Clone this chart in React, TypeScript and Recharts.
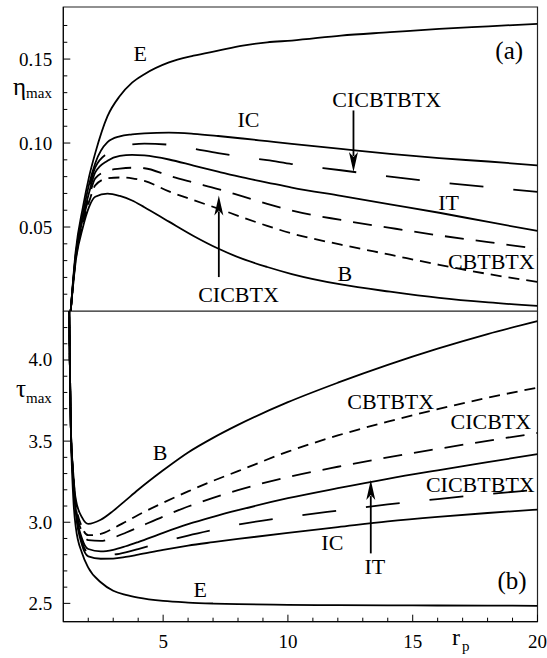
import React from "react";
import {
  LineChart,
  Line,
  XAxis,
  YAxis,
  ReferenceArea,
  ReferenceDot,
  ReferenceLine,
} from "recharts";

const FONT = "'Liberation Serif', 'Times New Roman', serif";

// (a) efficiency vs pressure ratio
const rpTop = [1, 1.2, 1.5, 1.75, 2, 2.5, 3, 3.5, 4, 5, 6, 7, 8, 9, 10, 12, 14, 16, 18, 20];
const etaE = [0, 0.035, 0.062, 0.08, 0.094, 0.116, 0.128, 0.136, 0.141, 0.148, 0.152, 0.155, 0.158, 0.16, 0.161, 0.164, 0.166, 0.168, 0.1695, 0.171];
const etaIC = [0, 0.033, 0.058, 0.0755, 0.088, 0.1005, 0.104, 0.1052, 0.1058, 0.1062, 0.1055, 0.1042, 0.1027, 0.1011, 0.0995, 0.0965, 0.0935, 0.091, 0.089, 0.0867];
const etaCICBTBTX = [0, 0.032, 0.0565, 0.073, 0.0855, 0.094, 0.098, 0.0992, 0.0997, 0.099, 0.0966, 0.094, 0.0918, 0.0898, 0.0875, 0.0838, 0.08, 0.0767, 0.0737, 0.0709];
const etaIT = [0, 0.032, 0.0555, 0.0705, 0.0825, 0.0895, 0.0924, 0.093, 0.0926, 0.0902, 0.0866, 0.083, 0.0795, 0.0765, 0.0735, 0.0685, 0.0635, 0.0585, 0.053, 0.0477];
const etaCICBTX = [0, 0.031, 0.054, 0.068, 0.079, 0.0835, 0.0848, 0.0853, 0.085, 0.0805, 0.0765, 0.0726, 0.0682, 0.0638, 0.0598, 0.0542, 0.0495, 0.045, 0.041, 0.037];
const etaCBTBTX = [0, 0.03, 0.052, 0.065, 0.0748, 0.079, 0.0795, 0.079, 0.0775, 0.0712, 0.066, 0.061, 0.0557, 0.0507, 0.0462, 0.0395, 0.0335, 0.0275, 0.022, 0.0173];
const etaB = [0, 0.029, 0.05, 0.062, 0.068, 0.0699, 0.0685, 0.0658, 0.0618, 0.0532, 0.0447, 0.0372, 0.031, 0.0262, 0.022, 0.0158, 0.0115, 0.0078, 0.0051, 0.003];

// (b) temperature ratio vs pressure ratio
const rpBottom = [1.22, 1.26, 1.3, 1.4, 1.5, 1.75, 2, 2.5, 3, 3.5, 4, 5, 6, 7, 8, 10, 12, 14, 16, 18, 20];
const tauE = [4.6, 4.0, 3.6, 3.15, 2.97, 2.81, 2.72, 2.63, 2.578, 2.552, 2.535, 2.515, 2.505, 2.499, 2.495, 2.491, 2.489, 2.488, 2.487, 2.486, 2.485];
const tauIC = [4.6, 4.0, 3.6, 3.25, 3.06, 2.86, 2.79, 2.775, 2.776, 2.786, 2.8, 2.83, 2.856, 2.877, 2.897, 2.935, 2.97, 3.005, 3.033, 3.057, 3.078];
const tauCICBTBTX = [4.6, 4.0, 3.6, 3.26, 3.07, 2.88, 2.81, 2.795, 2.8, 2.815, 2.835, 2.878, 2.918, 2.953, 2.985, 3.032, 3.072, 3.11, 3.143, 3.173, 3.2];
const tauIT = [4.6, 4.0, 3.6, 3.27, 3.08, 2.9, 2.835, 2.82, 2.83, 2.852, 2.878, 2.935, 2.988, 3.033, 3.074, 3.148, 3.21, 3.268, 3.32, 3.37, 3.42];
const tauCICBTX = [4.6, 4.0, 3.6, 3.28, 3.1, 2.94, 2.89, 2.885, 2.905, 2.935, 2.968, 3.035, 3.097, 3.15, 3.198, 3.278, 3.342, 3.4, 3.452, 3.502, 3.55];
const tauCBTBTX = [4.6, 4.0, 3.6, 3.29, 3.12, 2.97, 2.92, 2.928, 2.962, 3.003, 3.045, 3.12, 3.19, 3.255, 3.315, 3.435, 3.535, 3.62, 3.697, 3.767, 3.83];
const tauB = [4.6, 4.0, 3.6, 3.3, 3.14, 3.03, 2.99, 3.015, 3.07, 3.135, 3.2, 3.32, 3.43, 3.52, 3.6, 3.74, 3.86, 3.97, 4.07, 4.16, 4.24];

const xTicksTop = [1, 2, 3, 4, 5, 6, 7, 8, 9, 10, 11, 12, 13, 14, 15, 16, 17, 18, 19];
const xTicksBottom = [2, 3, 4, 5, 6, 7, 8, 9, 10, 11, 12, 13, 14, 15, 16, 17, 18, 19, 20];
const etaTicks = [0.01, 0.02, 0.03, 0.04, 0.05, 0.06, 0.07, 0.08, 0.09, 0.1, 0.11, 0.12, 0.13, 0.14, 0.15, 0.16, 0.17];
const etaTickLabels: Record<string, string> = { "0.05": "0.05", "0.1": "0.10", "0.15": "0.15" };
const tauTicks = [2.5, 2.6, 2.7, 2.8, 2.9, 3, 3.1, 3.2, 3.3, 3.4, 3.5, 3.6, 3.7, 3.8, 3.9, 4, 4.1, 4.2];
const tauTickLabels: Record<string, string> = { "2.5": "2.5", "3": "3.0", "3.5": "3.5", "4": "4.0" };

const series = [
  { key: "E", dash: undefined },
  { key: "IC", dash: undefined },
  { key: "CICBTBTX", dash: "34 30" },
  { key: "IT", dash: undefined },
  { key: "CICBTX", dash: "19 12" },
  { key: "CBTBTX", dash: "11 7" },
  { key: "B", dash: undefined },
];

const buildRows = (rp: number[], cols: Record<string, number[]>) =>
  rp.map((x, i) => {
    const row: Record<string, number> = { rp: x };
    Object.keys(cols).forEach((k) => (row[k] = cols[k][i]));
    return row;
  });

const topData = buildRows(rpTop, {
  E: etaE, IC: etaIC, CICBTBTX: etaCICBTBTX, IT: etaIT, CICBTX: etaCICBTX, CBTBTX: etaCBTBTX, B: etaB,
});
const bottomData = buildRows(rpBottom, {
  E: tauE, IC: tauIC, CICBTBTX: tauCICBTBTX, IT: tauIT, CICBTX: tauCICBTX, CBTBTX: tauCBTBTX, B: tauB,
});

// curve labels placed in data coordinates
const topLabels = [
  { text: "E", x: 3.83, y: 0.1536 },
  { text: "IC", x: 8.24, y: 0.1141 },
  { text: "(a)", x: 18.85, y: 0.1551 },
  { text: "CICBTBTX", x: 13.86, y: 0.1264 },
  { text: "IT", x: 16.38, y: 0.065 },
  { text: "CBTBTX", x: 18.12, y: 0.0297 },
  { text: "B", x: 12.16, y: 0.0227 },
  { text: "CICBTX", x: 7.83, y: 0.0099 },
];
const bottomLabels = [
  { text: "B", x: 4.88, y: 3.433 },
  { text: "CBTBTX", x: 14.12, y: 3.747 },
  { text: "CICBTX", x: 18.13, y: 3.621 },
  { text: "CICBTBTX", x: 17.71, y: 3.236 },
  { text: "IC", x: 11.78, y: 2.878 },
  { text: "IT", x: 13.48, y: 2.727 },
  { text: "(b)", x: 18.98, y: 2.644 },
  { text: "E", x: 6.49, y: 2.588 },
];

const Arrow = (props: any) => {
  const { x1, y1, x2, y2 } = props;
  const dir = Math.sign(y2 - y1);
  const head = 20;
  const half = 4.5;
  return (
    <g>
      <line x1={x1} y1={y1} x2={x2} y2={y2 - dir * (head - 4)} stroke="#000" strokeWidth={1.8} />
      <polygon
        points={`${x2},${y2} ${x2 - half},${y2 - dir * head} ${x2},${y2 - dir * (head - 5)} ${x2 + half},${y2 - dir * head}`}
        fill="#000"
      />
    </g>
  );
};

const XTick = (showLabels: boolean) => (p: any) => {
  const { x, y, payload } = p;
  const v = payload.value;
  const major = v % 5 === 0;
  return (
    <g>
      <line x1={x} x2={x} y1={y} y2={y - (major ? 7 : 4)} stroke="#000" strokeWidth={1} />
      {showLabels && major && (
        <text x={x} y={y + 26} textAnchor="middle" fontFamily={FONT} fontSize={19} fill="#000">
          {v}
        </text>
      )}
    </g>
  );
};

const YTick = (labels: Record<string, string>) => (p: any) => {
  const { x, y, payload } = p;
  const lab = labels[String(payload.value)];
  return (
    <g>
      <line x1={x} x2={x + (lab ? 7 : 4)} y1={y} y2={y} stroke="#000" strokeWidth={1} />
      {lab && (
        <text x={x - 11} y={y + 6.5} textAnchor="end" fontFamily={FONT} fontSize={19} fill="#000">
          {lab}
        </text>
      )}
    </g>
  );
};

const EtaTitle = () => (
  <text x={13} y={95} fontFamily={FONT} fill="#000">
    <tspan fontSize={25}>η</tspan>
    <tspan fontSize={15} dy={3}>max</tspan>
  </text>
);
const TauTitle = () => (
  <text x={16} y={86} fontFamily={FONT} fill="#000">
    <tspan fontSize={25}>τ</tspan>
    <tspan fontSize={15} dy={6}>max</tspan>
  </text>
);
const RpTitle = () => (
  <text x={452} y={334} fontFamily={FONT} fill="#000">
    <tspan fontSize={24}>r</tspan>
    <tspan fontSize={15} dx={2} dy={6}>p</tspan>
  </text>
);

const labelStyle = { position: "center" as const, fontSize: 22, fontFamily: FONT, fill: "#000" };
const panelTagStyle = { ...labelStyle, fontSize: 25 };

const App: React.FC = () => {
  return (
    <div style={{ position: "absolute", left: 0, top: 0, width: 547, height: 658, background: "#fff" }}>
      <div style={{ position: "absolute", left: 0, top: 0 }}>
        <LineChart width={547} height={320} data={topData} margin={{ top: 7, right: 9.5, bottom: 9, left: 0 }}>
          <XAxis
            dataKey="rp"
            type="number"
            domain={[0.7, 20]}
            allowDataOverflow
            ticks={xTicksTop}
            interval={0}
            tickSize={0}
            tickMargin={0}
            height={0}
            axisLine={{ stroke: "#000" }}
            tick={XTick(false)}
          />
          <YAxis
            type="number"
            domain={[0, 0.181]}
            allowDataOverflow
            ticks={etaTicks}
            interval={0}
            tickSize={0}
            tickMargin={0}
            width={63.3}
            axisLine={{ stroke: "#000" }}
            tick={YTick(etaTickLabels)}
            label={{ content: EtaTitle }}
          />
          <ReferenceArea x1={0.7} x2={20} y1={0} y2={0.181} fill="none" stroke="#222" strokeWidth={1.2} />
          {series.map((s) => (
            <Line
              key={s.key}
              dataKey={s.key}
              type="monotone"
              stroke="#000"
              strokeWidth={1.8}
              strokeDasharray={s.dash}
              dot={false}
              isAnimationActive={false}
            />
          ))}
          <ReferenceLine segment={[{ x: 12.51, y: 0.1194 }, { x: 12.51, y: 0.0827 }]} shape={Arrow} />
          <ReferenceLine segment={[{ x: 7.03, y: 0.0202 }, { x: 7.03, y: 0.0688 }]} shape={Arrow} />
          {topLabels.map((l) => (
            <ReferenceDot
              key={l.text}
              x={l.x}
              y={l.y}
              r={0}
              fill="none"
              stroke="none"
              label={{ value: l.text, ...(l.text === "(a)" ? panelTagStyle : labelStyle) }}
            />
          ))}
        </LineChart>
      </div>
      <div style={{ position: "absolute", left: 0, top: 311 }}>
        <LineChart width={547} height={347} data={bottomData} margin={{ top: 0, right: 9.5, bottom: 0, left: 0 }}>
          <XAxis
            dataKey="rp"
            type="number"
            domain={[1, 20]}
            allowDataOverflow
            ticks={xTicksBottom}
            interval={0}
            tickSize={0}
            tickMargin={0}
            height={36.3}
            axisLine={{ stroke: "#000" }}
            tick={XTick(true)}
            label={{ content: RpTitle }}
          />
          <YAxis
            type="number"
            domain={[2.387, 4.302]}
            allowDataOverflow
            ticks={tauTicks}
            interval={0}
            tickSize={0}
            tickMargin={0}
            width={63.3}
            axisLine={{ stroke: "#000" }}
            tick={YTick(tauTickLabels)}
            label={{ content: TauTitle }}
          />
          <ReferenceArea x1={1} x2={20} y1={2.387} y2={4.302} fill="none" stroke="#222" strokeWidth={1.2} />
          {series.map((s) => (
            <Line
              key={s.key}
              dataKey={s.key}
              type="monotone"
              stroke="#000"
              strokeWidth={1.8}
              strokeDasharray={s.dash}
              dot={false}
              isAnimationActive={false}
            />
          ))}
          <ReferenceLine segment={[{ x: 13.32, y: 2.808 }, { x: 13.32, y: 3.26 }]} shape={Arrow} />
          {bottomLabels.map((l) => (
            <ReferenceDot
              key={l.text}
              x={l.x}
              y={l.y}
              r={0}
              fill="none"
              stroke="none"
              label={{ value: l.text, ...(l.text === "(b)" ? panelTagStyle : labelStyle) }}
            />
          ))}
        </LineChart>
      </div>
    </div>
  );
};

export default App;
